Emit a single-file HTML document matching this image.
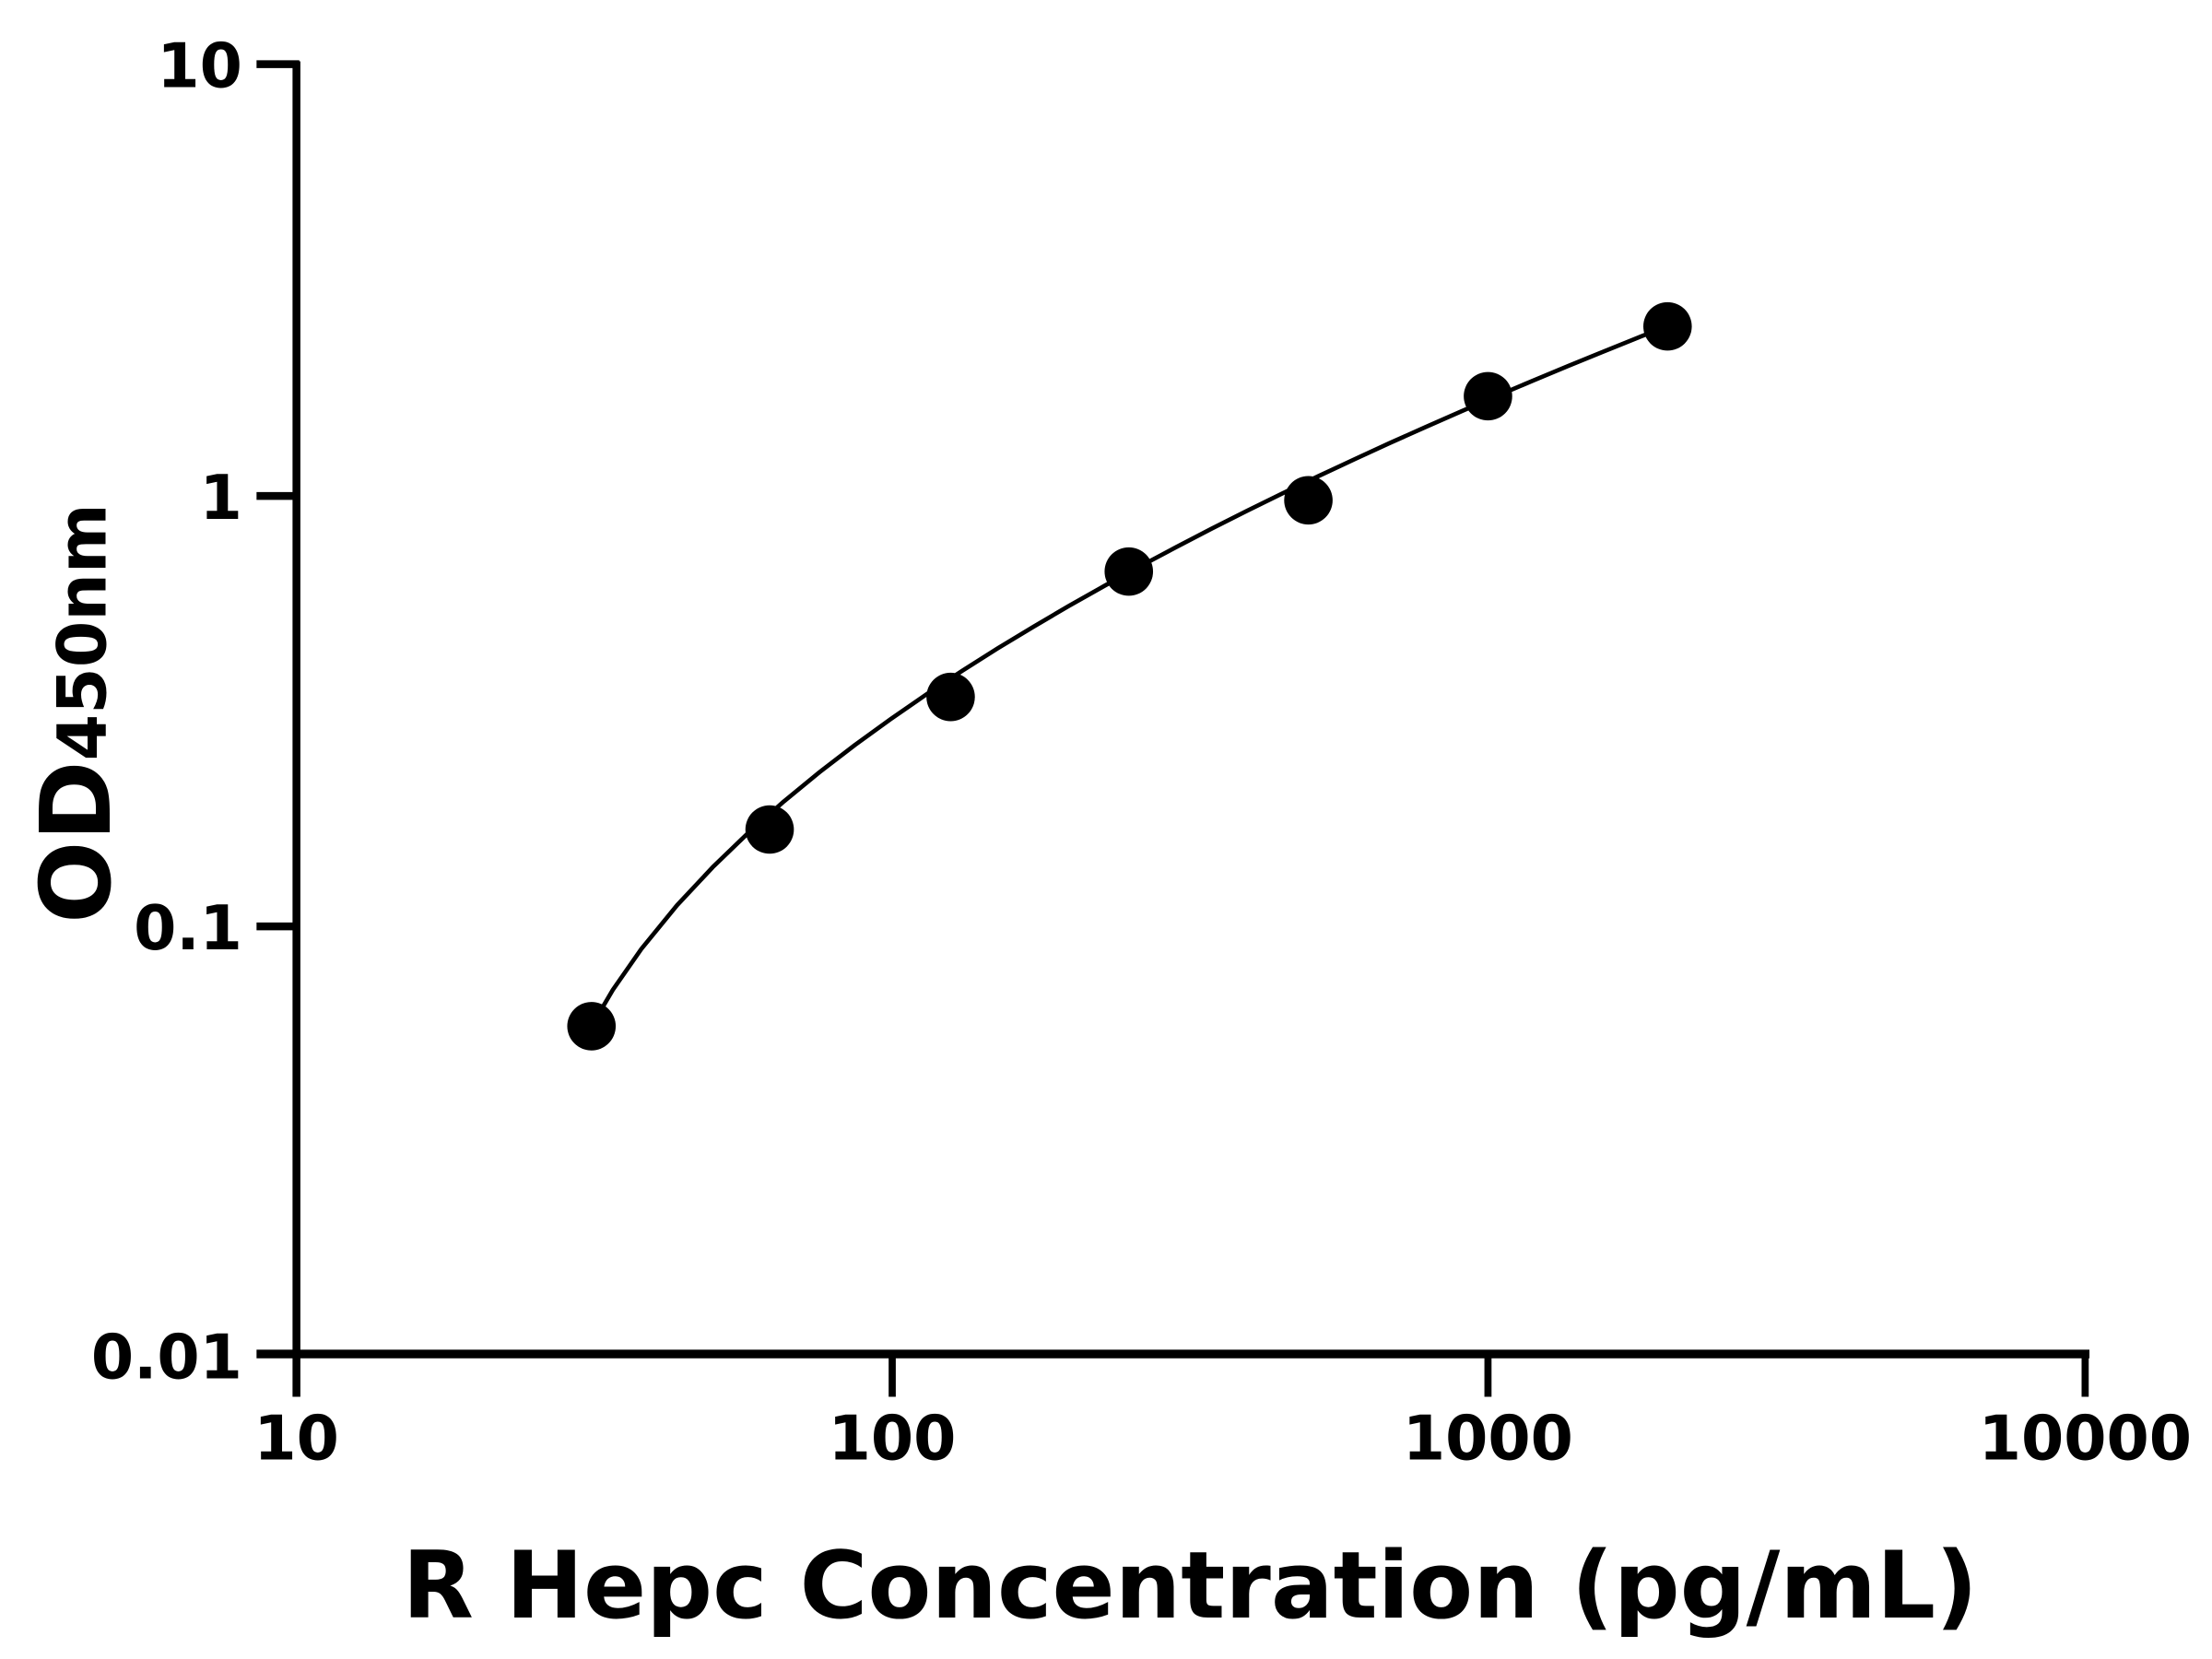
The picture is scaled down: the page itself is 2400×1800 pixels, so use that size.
<!DOCTYPE html>
<html><head><style>html,body{margin:0;padding:0;background:#fff}svg{display:block}</style></head>
<body>
<svg xmlns="http://www.w3.org/2000/svg" width="2400" height="1800" viewBox="0 0 1552 1164">
<rect width="1552" height="1164" fill="#fff"/>
<g stroke="#000" fill="none" stroke-linecap="butt">
<line x1="208" y1="43" x2="208" y2="980" stroke-width="5.5"/>
<line x1="180" y1="950" x2="1466" y2="950" stroke-width="6"/>
<line x1="180" y1="45" x2="210" y2="45" stroke-width="5.5"/>
<line x1="180" y1="348" x2="208" y2="348" stroke-width="5.5"/>
<line x1="180" y1="650" x2="208" y2="650" stroke-width="5.5"/>
<line x1="626" y1="950" x2="626" y2="980" stroke-width="5"/>
<line x1="1044" y1="950" x2="1044" y2="980" stroke-width="5"/>
<line x1="1463" y1="950" x2="1463" y2="980" stroke-width="5"/>
<polyline stroke-width="3" stroke-linejoin="round" points="415,720 430,694.5 450,665.8 475,635.2 500,608.5 525,584.4 550,562.3 575,541.8 600,522.6 625,504.5 650,487.2 675,470.7 700,454.9 725,439.8 750,425.1 775,411 800,397.3 825,384 850,371 875,358.4 900,346.1 925,334.1 950,322.4 975,310.9 1000,299.7 1025,288.7 1050,277.9 1075,267.3 1100,256.9 1125,246.7 1150,236.6 1170,228.7"/>
</g>
<g fill="#000">
<circle cx="415" cy="720" r="17"/>
<circle cx="540" cy="582" r="17"/>
<circle cx="667" cy="489" r="17"/>
<circle cx="792" cy="401" r="17"/>
<circle cx="918" cy="351" r="17"/>
<circle cx="1044" cy="278" r="17"/>
<circle cx="1170" cy="229" r="17"/>
</g>
<g font-family="'DejaVu Sans','Liberation Sans',sans-serif" font-weight="bold" fill="#000">
<g font-size="43" text-anchor="end">
<text x="170" y="61">10</text>
<text x="170" y="364">1</text>
<text x="170" y="666">0.1</text>
<text x="170" y="967">0.01</text>
</g>
<g font-size="43" text-anchor="middle">
<text x="208" y="1024">10</text>
<text x="626" y="1024">100</text>
<text x="1044" y="1024">1000</text>
<text x="1463" y="1024">10000</text>
</g>
<text x="835" y="1135" font-size="65" text-anchor="middle">R Hepc Concentration (pg/mL)</text>
<text transform="translate(77,648) rotate(-90)" font-size="68">OD<tspan font-size="47" dy="-3">450nm</tspan></text>
</g>
</svg>
</body></html>
